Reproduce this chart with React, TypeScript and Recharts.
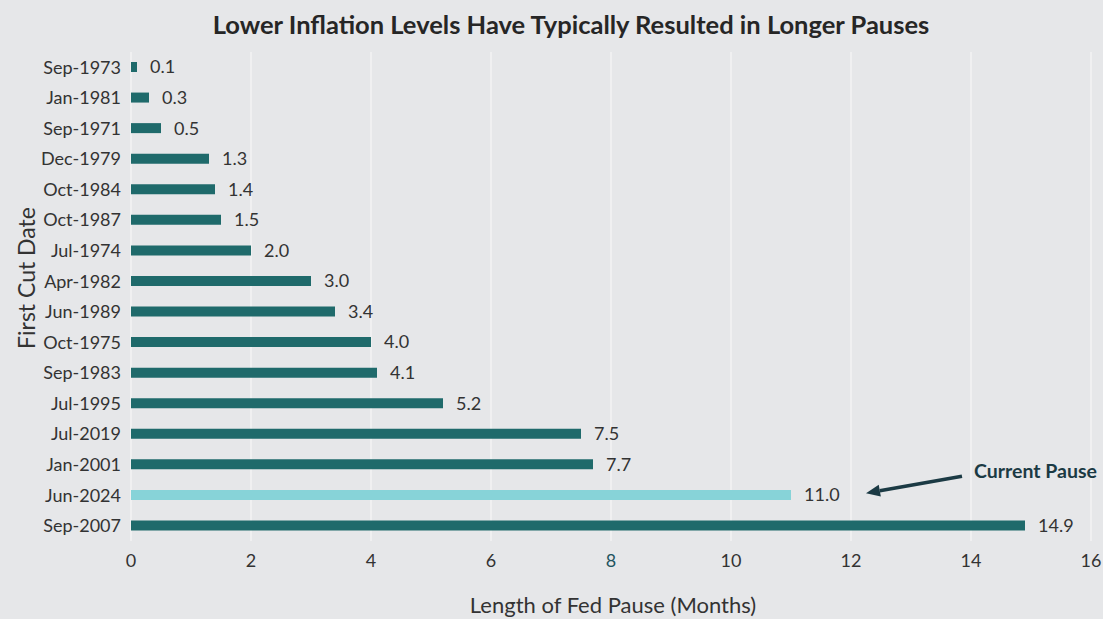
import React from 'react';
import { BarChart, Bar, XAxis, YAxis, CartesianGrid, LabelList, Cell, ReferenceLine } from 'recharts';

const categories = ['Sep-1973','Jan-1981','Sep-1971','Dec-1979','Oct-1984','Oct-1987','Jul-1974','Apr-1982','Jun-1989','Oct-1975','Sep-1983','Jul-1995','Jul-2019','Jan-2001','Jun-2024','Sep-2007'];
const pauseMonths = [0.1,0.3,0.5,1.3,1.4,1.5,2.0,3.0,3.4,4.0,4.1,5.2,7.5,7.7,11.0,14.9];
const xTicks = [0,2,4,6,8,10,12,14,16];
const currentCategory = 'Jun-2024';
const arrowTipX = 12.25;
const arrowTailX = 13.85;

const data = categories.map((c, i) => ({ date: c, months: pauseMonths[i] }));

const FONT = 'Lato, "Open Sans", sans-serif';
const DARK = '#1f6a6b';
const LIGHT = '#87d3d8';

const XTick = (props: any) => {
  const { x, y, payload } = props;
  return (
    <text x={x} y={y} dy={12} textAnchor="middle" fontFamily={FONT} fontSize={18}
      fill={payload.value === 8 ? '#1f5560' : '#333'}>{payload.value}</text>
  );
};

const ArrowShape = (props: any) => {
  const { x1, y1, x2 } = props;
  const tipX = Math.min(x1, x2);
  const tailX = Math.max(x1, x2);
  const tipY = y1 - 2;
  const tailY = y1 - 19;
  const ang = Math.atan2(tipY - tailY, tipX - tailX);
  const L = 14, W = 6;
  const bx = tipX - L * Math.cos(ang);
  const by = tipY - L * Math.sin(ang);
  const px = -Math.sin(ang) * W, py = Math.cos(ang) * W;
  return (
    <g>
      <line x1={tailX} y1={tailY} x2={bx} y2={by} stroke="#1b3a44" strokeWidth={3.5} />
      <polygon points={`${tipX},${tipY} ${bx + px},${by + py} ${bx - px},${by - py}`} fill="#1b3a44" />
      <text x={tailX + 12} y={tailY + 2} fontFamily={FONT} fontWeight="bold" fontSize={19.5} fill="#1b3a44">Current Pause</text>
    </g>
  );
};

export default function App() {
  return (
    <div style={{ position: 'absolute', left: 0, top: 0, width: 1103, height: 619, background: '#e6e7e9' }}>
      <BarChart width={1103} height={619} data={data} layout="vertical"
        margin={{ top: 52, right: 12, bottom: 48, left: 0 }}>
        <text x={571} y={34} textAnchor="middle" fontFamily={FONT} fontWeight="bold" fontSize={25.5} fill="#262626">
          Lower Inflation Levels Have Typically Resulted in Longer Pauses
        </text>
        <text x={613} y={613} textAnchor="middle" fontFamily={FONT} fontSize={22} fill="#333">
          Length of Fed Pause (Months)
        </text>
        <text x={35} y={278} textAnchor="middle" fontFamily={FONT} fontSize={23} fill="#333" transform="rotate(-90 35 278)">
          First Cut Date
        </text>
        <CartesianGrid horizontal={false} stroke="#f7f7f7" strokeWidth={1.2} />
        <XAxis type="number" domain={[0, 16]} ticks={xTicks} axisLine={false} tickLine={false}
          tick={<XTick />} tickMargin={8} interval={0} height={30} />
        <YAxis type="category" dataKey="date" width={131} axisLine={false} tickLine={false}
          tick={{ fontFamily: FONT, fontSize: 18, fill: '#333' }} tickMargin={4} interval={0} />
        <Bar dataKey="months" barSize={10} isAnimationActive={false}>
          {data.map((d) => (
            <Cell key={d.date} fill={d.date === currentCategory ? LIGHT : DARK} />
          ))}
          <LabelList dataKey="months" position="right" offset={13}
            formatter={(v: any) => Number(v).toFixed(1)}
            style={{ fontFamily: FONT, fontSize: 18, fill: '#333' }} />
        </Bar>
        <ReferenceLine segment={[{ x: arrowTipX, y: currentCategory }, { x: arrowTailX, y: currentCategory }]}
          shape={<ArrowShape />} ifOverflow="visible" />
      </BarChart>
    </div>
  );
}
